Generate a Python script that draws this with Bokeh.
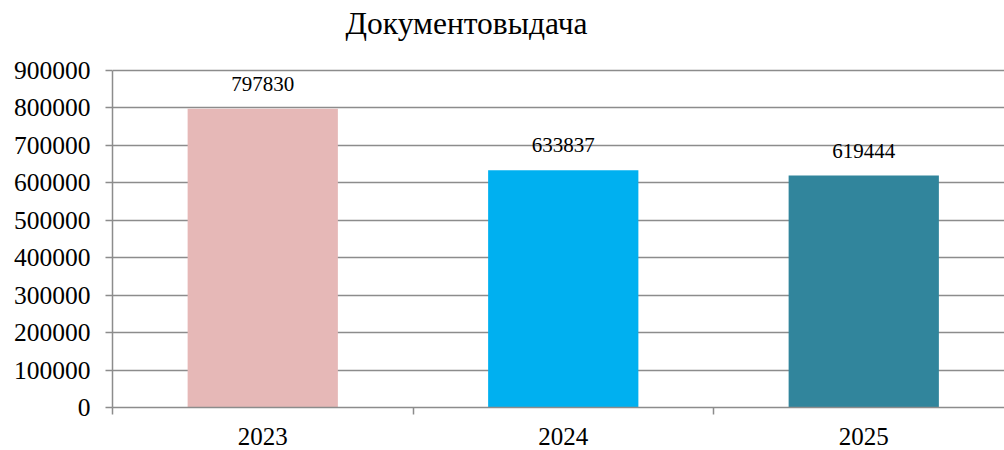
from bokeh.plotting import figure
from bokeh.models import Range1d, FixedTicker, ColumnDataSource, Label, NumeralTickFormatter
from bokeh.core.properties import value
from bokeh.embed import file_html
from bokeh.resources import INLINE

# ---- data ----
years = ["2023", "2024", "2025"]
counts = [797830, 633837, 619444]
bar_colors = ["#E6B8B7", "#00B0F0", "#31859C"]
title_text = "Документовыдача"
y_ticks = [0, 100000, 200000, 300000, 400000, 500000, 600000, 700000, 800000, 900000]

FONT = "'Liberation Serif', 'Times New Roman', Tinos, serif"
GRID = "#8c8c8c"

# layout (pixels)
W, H = 1004, 450
LEFT, BOTTOM_PX, TOP_PX = 112, 407, 70   # frame left, value-axis 0 and max rows

centers = [i + 0.5 for i in range(len(years))]
bounds = [float(i) for i in range(len(years) + 1)]
src = ColumnDataSource(dict(x=centers, top=counts, color=bar_colors,
                            label=[str(c) for c in counts]))

y_max = y_ticks[-1]
# frame reaches the top of the canvas so the title can live inside it
y_end = y_max * BOTTOM_PX / (BOTTOM_PX - TOP_PX)

p = figure(width=W, height=H, output_backend="svg", toolbar_location=None,
           x_range=Range1d(0, (W - LEFT) / 300.5), y_range=Range1d(0, y_end),
           min_border_left=LEFT, min_border_right=0, min_border_top=0,
           min_border_bottom=H - BOTTOM_PX, background_fill_color="white",
           border_fill_color="white")
p.outline_line_color = None

# chart title
p.add_layout(Label(x=0, y=y_max, x_offset=354, y_offset=47,
                   text=title_text, text_align="center", text_baseline="alphabetic",
                   text_font=FONT, text_font_size="31.5px", text_color="#000000"))

p.vbar(x="x", top="top", width=0.5, color="color", line_color=None, source=src)
p.text(x="x", y="top", text="label", source=src, y_offset=-25,
       text_align="center", text_baseline="alphabetic",
       text_font=value(FONT), text_font_size="21px", text_color="#000000")

# y axis
ya = p.yaxis[0]
ya.ticker = FixedTicker(ticks=y_ticks)
ya.bounds = (0, y_max)
ya.formatter = NumeralTickFormatter(format="0")
ya.axis_line_color = GRID
ya.axis_line_width = 1.5
ya.major_tick_line_color = GRID
ya.major_tick_line_width = 1.5
ya.major_tick_in = 0
ya.major_tick_out = 7
ya.minor_tick_line_color = None
ya.major_label_standoff = 15
ya.major_label_text_font = FONT
ya.major_label_text_font_size = "25.5px"
ya.major_label_text_color = "#000000"

# x axis
xa = p.xaxis[0]
xa.ticker = FixedTicker(ticks=centers, minor_ticks=bounds)
xa.major_label_overrides = {c: y for c, y in zip(centers, years)}
xa.axis_line_color = GRID
xa.axis_line_width = 1.5
xa.major_tick_line_color = None
xa.major_tick_in = 0
xa.major_tick_out = 0
xa.minor_tick_line_color = GRID
xa.minor_tick_line_width = 1.5
xa.minor_tick_in = 0
xa.minor_tick_out = 7
xa.major_label_standoff = 13
xa.major_label_text_font = FONT
xa.major_label_text_font_size = "25px"
xa.major_label_text_color = "#000000"

p.xgrid.visible = False
p.ygrid.ticker = FixedTicker(ticks=y_ticks)
p.ygrid.grid_line_color = GRID
p.ygrid.grid_line_width = 1.5

open("out.html", "w").write(file_html(p, INLINE))
